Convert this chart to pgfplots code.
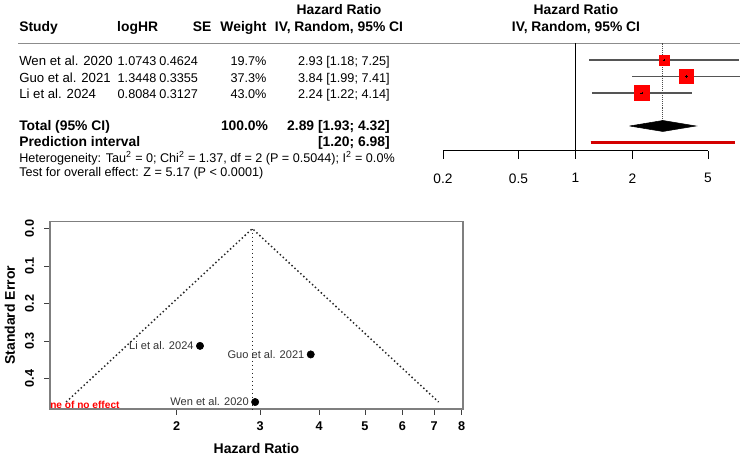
\documentclass[border=0pt]{standalone}
\usepackage{pgfplots}
\pgfplotsset{compat=1.18}
\usepackage{pgfplotstable}
\usepackage{fontspec}
\setmainfont{Liberation Sans}

\definecolor{cigray}{HTML}{555555}
\definecolor{rulegray}{HTML}{8C8C8C}
\definecolor{boxgray}{HTML}{7F7F7F}
\definecolor{boxred}{HTML}{FF0000}
\definecolor{predred}{HTML}{D40000}
\definecolor{preddark}{HTML}{5A0000}
\definecolor{labgray}{HTML}{333333}

\newcommand{\rowfont}{\fontsize{9.9}{12}\selectfont}
\newcommand{\numfont}{\fontsize{9.5}{11}\selectfont}
\newcommand{\headfont}{\fontsize{10.4}{12}\selectfont\bfseries}
\newcommand{\hetfont}{\fontsize{9.45}{11}\selectfont}

% study rows: hazard ratio, 95% CI, weight (%), standard error of logHR
\pgfplotstableread{
row hr   lo   hi   w    se
1   2.93 1.18 7.25 19.7 0.4624
2   3.84 1.99 7.41 37.3 0.3355
3   2.24 1.22 4.14 43.0 0.3127
}\studies

\pgfplotstableread[col sep=comma]{
study,hr,se
Wen et al. 2020,2.93,0.4624
Guo et al. 2021,3.84,0.3355
Li et al. 2024,2.24,0.3127
}\funneldata

\begin{document}
\begin{tikzpicture}
% page frame, in units of 0.75pt
\begin{scope}[x=0.75pt,y=0.75pt]
\path[use as bounding box] (0,0) rectangle (746,459);

% ---------- forest plot: table columns ----------
\begin{scope}[every node/.style={inner sep=0pt, font=\numfont}]
  \node[anchor=base, font=\headfont] at (339,444) {Hazard Ratio};
  \node[anchor=base, font=\headfont] at (339,427.3) {IV, Random, 95\% CI};
  \node[anchor=base, font=\headfont] at (576,444) {Hazard Ratio};
  \node[anchor=base, font=\headfont] at (576,427.3) {IV, Random, 95\% CI};
  \node[anchor=base west, font=\headfont] at (19,427.3) {Study};
  \node[anchor=base east, font=\headfont] at (158.3,427.3) {logHR};
  \node[anchor=base east, font=\headfont] at (211.7,427.3) {SE};
  \node[anchor=base east, font=\headfont] at (266.7,427.3) {Weight};

  \node[anchor=base west, font=\rowfont] at (19,393.3) {Wen et al. 2020};
  \node[anchor=base east] at (156.7,393.3) {1.0743};
  \node[anchor=base east] at (198.3,393.3) {0.4624};
  \node[anchor=base east] at (266.7,393.3) {19.7\%};
  \node[anchor=base east] at (390,393.3) {2.93 [1.18; 7.25]};

  \node[anchor=base west, font=\rowfont] at (19,376.8) {Guo et al. 2021};
  \node[anchor=base east] at (156.7,376.8) {1.3448};
  \node[anchor=base east] at (198.3,376.8) {0.3355};
  \node[anchor=base east] at (266.7,376.8) {37.3\%};
  \node[anchor=base east] at (390,376.8) {3.84 [1.99; 7.41]};

  \node[anchor=base west, font=\rowfont] at (19,360.3) {Li et al. 2024};
  \node[anchor=base east] at (156.7,360.3) {0.8084};
  \node[anchor=base east] at (198.3,360.3) {0.3127};
  \node[anchor=base east] at (266.7,360.3) {43.0\%};
  \node[anchor=base east] at (390,360.3) {2.24 [1.22; 4.14]};

  \node[anchor=base west, font=\headfont] at (19,328.3) {Total (95\% CI)};
  \node[anchor=base east, font=\headfont] at (268.3,328.3) {100.0\%};
  \node[anchor=base east, font=\headfont] at (390,328.3) {2.89 [1.93; 4.32]};
  \node[anchor=base west, font=\headfont] at (19,312.3) {Prediction interval};
  \node[anchor=base east, font=\headfont] at (390,312.3) {[1.20; 6.98]};

  \node[anchor=base west, font=\hetfont] at (19,296.5)
    {Heterogeneity: Tau\textsuperscript{2} = 0; Chi\textsuperscript{2} = 1.37, df = 2 (P = 0.5044); I\textsuperscript{2} = 0.0\%};
  \node[anchor=base west, font=\hetfont] at (19,282.5)
    {Test for overall effect: Z = 5.17 (P < 0.0001)};
\end{scope}
% rule under the column headers
\draw[rulegray, line width=1.1pt] (18,415.5) -- (740,415.5);
\end{scope}

% ---------- forest plot: graphical column ----------
\begin{axis}[
  at={(332.25pt,231.1875pt)}, anchor=south west, scale only axis,
  width=198.75pt, height=80.4375pt,
  xmode=log, xmin=0.2, xmax=5,
  ymin=0, ymax=6.5, y dir=reverse,
  axis x line*=bottom, hide y axis,
  xtick={0.2,0.5,1,2,5}, xticklabels={0.2,0.5,1,2,5},
  tick align=outside, major tick length=6pt,
  x axis line style={black, line width=0.75pt, -},
  xtick style={black, line width=0.75pt},
  xticklabel style={font=\fontsize{10.3}{12}\selectfont},
  xticklabel shift=7.5pt,
  clip=false,
]
  % line of no effect
  \addplot[black, line width=0.75pt] coordinates {(1,0) (1,6.5)};
  % pooled estimate reference line
  \addplot[gray!60!black, line width=0.65pt, dash pattern=on 0.8pt off 0.8pt]
    coordinates {(2.89,0) (2.89,4.667)};
  % study confidence intervals
  \addplot[cigray, line width=0.9pt] coordinates {(1.18,1) (7.25,1)};
  \addplot[cigray, line width=0.9pt] coordinates {(1.99,2) (7.41,2)};
  \addplot[cigray, line width=0.9pt] coordinates {(1.22,3) (4.14,3)};
  % study boxes, side proportional to sqrt(weight)
  \addplot[only marks, mark=square*, mark size=3.68pt, boxred] coordinates {(2.93,1)};
  \addplot[only marks, mark=square*, mark size=5.06pt, boxred] coordinates {(3.84,2)};
  \addplot[only marks, mark=square*, mark size=5.44pt, boxred] coordinates {(2.24,3)};
  \addplot[only marks, mark=+, mark size=1.1pt, black, line width=0.5pt]
    table[x=hr, y=row] {\studies};
  % pooled estimate diamond
  \addplot[fill=black, draw=black, line width=0.4pt]
    coordinates {(1.93,5) (2.89,4.667) (4.32,5) (2.89,5.333) (1.93,5)};
  % prediction interval
  \addplot[preddark, line width=2.6pt] coordinates {(1.20,6) (6.98,6)};
  \addplot[predred, line width=1.6pt] coordinates {(1.20,6) (6.98,6)};
\end{axis}

% ---------- funnel plot ----------
\begin{axis}[
  at={(37.5pt,37.5pt)}, anchor=south west, scale only axis,
  width=309.75pt, height=140.475pt,
  xmode=log, xmin=1.0796, xmax=8.055,
  ymin=-0.0185, ymax=0.481, y dir=reverse,
  xtick={2,3,4,5,6,7,8}, xticklabels={2,3,4,5,6,7,8},
  ytick={0,0.1,0.2,0.3,0.4}, yticklabels={0.0,0.1,0.2,0.3,0.4},
  xtick pos=bottom, ytick pos=left, tick align=outside,
  major tick length=4.5pt,
  axis line style={boxgray, line width=1.1pt},
  tick style={black!75, line width=0.6pt},
  ticklabel style={font=\fontsize{9.5}{11}\selectfont\bfseries},
  xticklabel shift=1.5pt,
  yticklabel style={rotate=90, anchor=south},
  yticklabel shift=4pt,
  xlabel={Hazard Ratio}, ylabel={Standard Error},
  label style={font=\fontsize{10.5}{12}\selectfont\bfseries},
  xlabel style={at={(axis description cs:0.5,-0.2082)}, anchor=center},
  ylabel style={at={(axis description cs:-0.0969,0.5)}, anchor=center},
  clip=false,
]
  % pseudo 95% confidence region around the pooled estimate
  \addplot[black!85, line width=1.1pt, dash pattern=on 1.1pt off 1.9pt]
    coordinates {(1.1677,0.4624) (2.89,0) (7.153,0.4624)};
  \addplot[black!85, line width=1.1pt, dash pattern=on 1.1pt off 1.9pt]
    coordinates {(2.89,0) (2.89,0.481)};
  % studies
  \addplot[only marks, mark=*, mark size=2.75pt, black,
    nodes near coords, point meta=explicit symbolic,
    nodes near coords style={anchor=east, inner sep=0pt, xshift=-4.6pt,
      font=\fontsize{8.3}{10}\selectfont, text=labgray}]
    table[x=hr, y=se, meta=study] {\funneldata};
\end{axis}
\node[anchor=base west, inner sep=0pt, text=red,
  font=\fontsize{7.6}{9}\selectfont\bfseries] at (37.5pt,37.95pt) {ne of no effect};

\end{tikzpicture}
\end{document}
